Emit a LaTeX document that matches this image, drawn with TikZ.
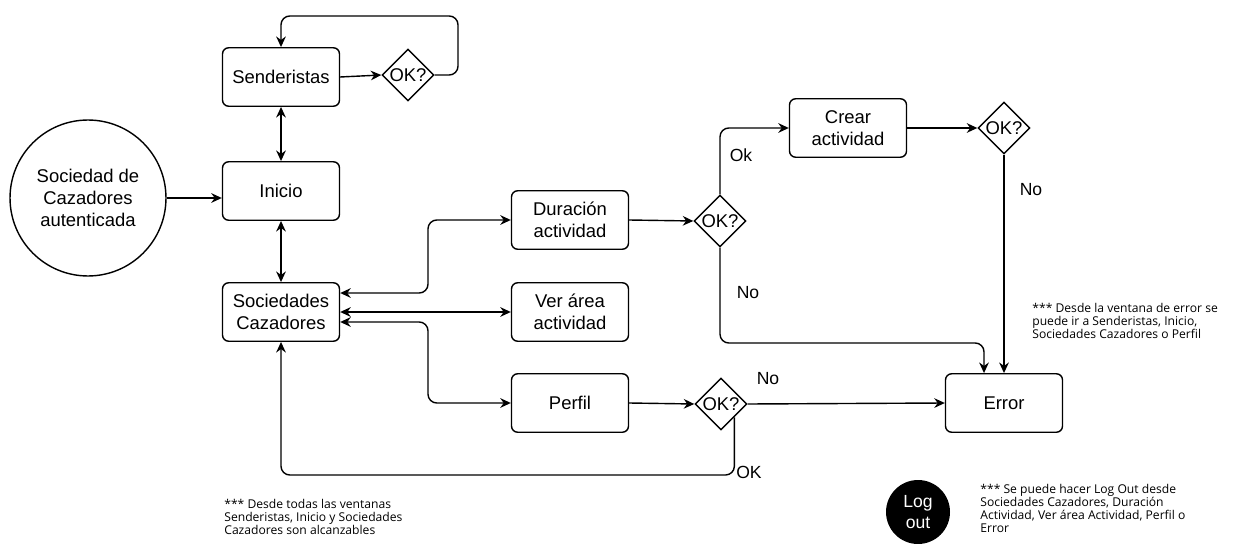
\documentclass[tikz,border=0pt]{standalone}
\usepackage{fontspec}
\setmainfont{Liberation Sans}
\newfontfamily\notefont{Open Sans}
\usepackage{tikz}
\usetikzlibrary{shapes,arrows,positioning,calc,arrows.meta}

\tikzset{
    win/.style={draw, rounded corners=3.5pt, line width=0.8pt, minimum width=2.34cm, minimum height=1.17cm, align=center, font=\fontsize{10.5}{12.5}\selectfont},
    okq/.style={draw, diamond, aspect=1, line width=0.8pt, minimum width=1.04cm, minimum height=1.04cm, inner sep=0pt, font=\fontsize{10.5}{12.5}\selectfont},
    arr/.style={-{Stealth[length=6pt,width=5.5pt]}, line width=0.8pt, rounded corners=5pt},
    dbl/.style={{Stealth[length=6pt,width=5.5pt]}-{Stealth[length=6pt,width=5.5pt]}, line width=0.8pt, rounded corners=5pt},
    lbl/.style={font=\fontsize{10}{12}\selectfont},
    note/.style={align=left, anchor=north west, inner sep=0pt, font=\notefont\fontsize{6.9}{7.4}\selectfont}
}

\begin{document}
\begin{tikzpicture}[x=0.02cm, y=-0.02cm]
    \useasboundingbox (0,0) rectangle (1233,547);

    % Start
    \node [draw, circle, line width=0.8pt, minimum size=3.12cm, align=center, font=\fontsize{10.5}{12.5}\selectfont] (auth) at (88,198) {Sociedad de\\Cazadores\\autenticada};

    % Windows
    \node [win] (send) at (281,77) {Senderistas};
    \node [win] (ini) at (281,191) {Inicio};
    \node [win] (caz) at (281,312) {Sociedades\\Cazadores};
    \node [win] (dur) at (570,220) {Duración\\actividad};
    \node [win] (ver) at (570,312) {Ver área\\actividad};
    \node [win] (per) at (570,403) {Perfil};
    \node [win] (crear) at (848,128) {Crear\\actividad};
    \node [win] (err) at (1004,403) {Error};

    % Checks
    \node [okq] (ok1) at (408,75) {OK?};
    \node [okq] (ok2) at (720,221) {OK?};
    \node [okq] (ok3) at (1004,128) {OK?};
    \node [okq] (ok4) at (721,404) {OK?};

    % Log out
    \node [circle, fill=black, text=white, minimum size=1.28cm, inner sep=0pt, align=center, font=\fontsize{10}{11.5}\selectfont] (logout) at (918,512) {Log\\out};

    % Turning points
    \coordinate (loopR) at (458,16);
    \coordinate (busT) at (428,220);
    \coordinate (busB) at (428,403);
    \coordinate (noTurn) at (850,343);
    \coordinate (okTurn) at (500,475);

    % Connectors
    \draw [arr] (ok1.east) -| (loopR) -| (send.north);
    \draw [arr] (send.east) -- (ok1.west);
    \draw [dbl] (send.south) -- (ini.north);
    \draw [arr] (auth.east) -- (auth.east -| ini.west);
    \draw [dbl] (ini.south) -- (caz.north);
    \draw [dbl] ([yshift=0.38cm]caz.east) -| (busT) -- (dur.west);
    \draw [dbl] (caz.east) -- (ver.west);
    \draw [dbl] ([yshift=-0.2cm]caz.east) -| (busB) -- (per.west);
    \draw [arr] (dur.east) -- (ok2.west);
    \draw [arr] (ok2.north) |- (crear.west);
    \draw [arr] (ok2.south) |- (noTurn) -| ([xshift=-0.4cm]err.north);
    \draw [arr] (crear.east) -- (ok3.west);
    \draw [arr] (ok3.south) -- (err.north);
    \draw [arr] (per.east) -- (ok4.west);
    \draw [arr] (ok4.east) -- (err.west);
    \draw [arr] (ok4.south east) |- (okTurn) -| (caz.south);

    % Labels
    \node [lbl] (lOk) at (741,155) {Ok};
    \node [lbl] (lNo1) at (748,293) {No};
    \node [lbl] (lNo2) at (1031,190) {No};
    \node [lbl] (lNo3) at (768,379) {No};
    \node [lbl] (lOK) at (749,472) {OK};

    % Notes
    \node [note] (noteErr) at (1032,303) {*** Desde la ventana de error se\\puede ir a Senderistas, Inicio,\\Sociedades Cazadores o Perfil};
    \node [note] (noteAll) at (224,499) {*** Desde todas las ventanas\\Senderistas, Inicio y Sociedades\\Cazadores son alcanzables};
    \node [note] (noteOut) at (980,484) {*** Se puede hacer Log Out desde\\Sociedades Cazadores, Duración\\Actividad, Ver área Actividad, Perfil o\\Error};
\end{tikzpicture}
\end{document}
